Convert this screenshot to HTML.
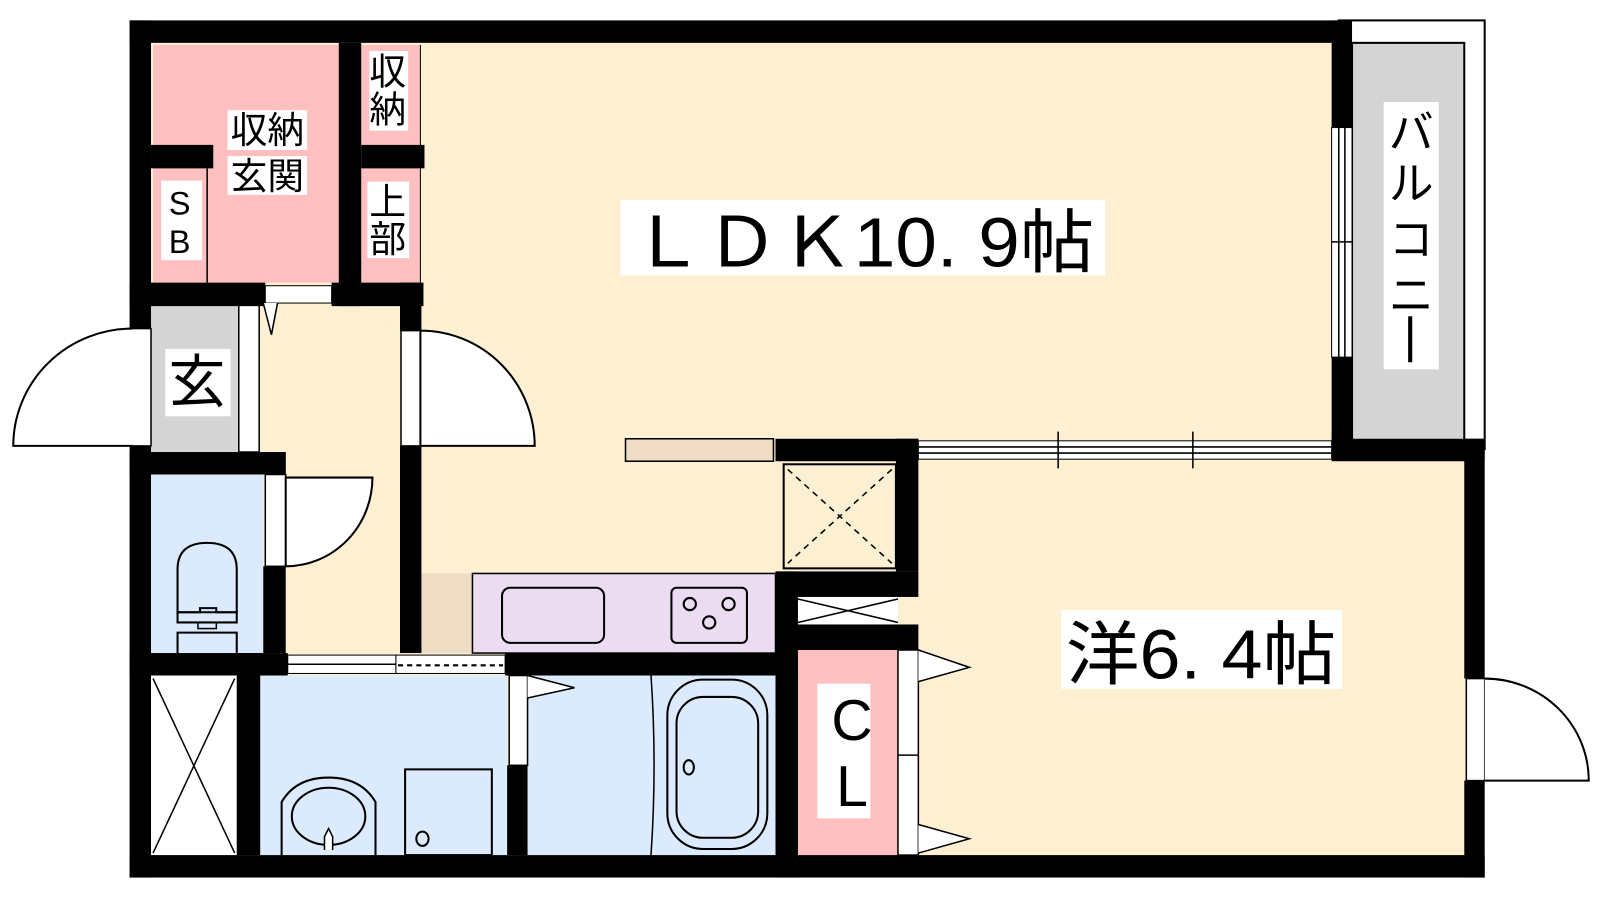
<!DOCTYPE html>
<html><head><meta charset="utf-8"><style>
html,body{margin:0;padding:0;background:#fff;width:1600px;height:900px;overflow:hidden}
svg{display:block}
text{font-family:"Liberation Sans","Noto Sans CJK JP",sans-serif;fill:#000}
</style></head><body>
<svg width="1600" height="900" viewBox="0 0 1600 900" xmlns="http://www.w3.org/2000/svg">
<g transform="scale(1.0204)">
<!-- balcony -->
<rect x="1312" y="20" width="143" height="420" fill="#fff" stroke="#000" stroke-width="2"/>
<rect x="1325" y="42" width="110" height="392" fill="#d4d4d4" stroke="#000" stroke-width="2"/>
<!-- room fills -->
<rect x="148" y="42" width="1160" height="800" fill="#fdf0d2"/>
<rect x="900" y="450" width="537" height="390" fill="#fdf0d2"/>
<!-- pink closets -->
<rect x="150" y="44" width="182" height="233" fill="#fdbfbf"/>
<rect x="354" y="44" width="58" height="233" fill="#fdbfbf"/>
<line x1="203" y1="165" x2="203" y2="277" stroke="#000" stroke-width="1.5"/>
<line x1="412" y1="44" x2="412" y2="277" stroke="#000" stroke-width="1"/>
<!-- genkan grey -->
<rect x="148" y="300" width="86" height="143" fill="#d4d4d4"/>
<rect x="234" y="294" width="20" height="149" fill="#fff" stroke="#000" stroke-width="1.5"/>
<!-- toilet -->
<rect x="148" y="465" width="110" height="175" fill="#dbeafd"/>
<!-- storage X -->
<rect x="148" y="662" width="84" height="176" fill="#fff"/>
<path d="M150 665 L230 836 M230 665 L150 836" stroke="#000" stroke-width="1.5"/>
<!-- wash & bath -->
<rect x="255" y="662" width="242" height="176" fill="#dbeafd"/>
<rect x="517" y="662" width="243" height="176" fill="#dbeafd"/>
<!-- CL -->
<rect x="782" y="637" width="98" height="201" fill="#fdbfbf"/>
<!-- kitchen -->
<rect x="412" y="562" width="51" height="78" fill="#eeddc4"/>
<rect x="463" y="562" width="297" height="78" fill="#ecdcf2" stroke="#000" stroke-width="1.5"/>
<rect x="492" y="576" width="100" height="54" rx="8" fill="none" stroke="#000" stroke-width="2"/>
<rect x="658" y="576" width="74" height="54" rx="5" fill="none" stroke="#000" stroke-width="2"/>
<circle cx="676" cy="592" r="6" fill="none" stroke="#000" stroke-width="2"/>
<circle cx="714" cy="592" r="6" fill="none" stroke="#000" stroke-width="2"/>
<circle cx="695" cy="610" r="6" fill="none" stroke="#000" stroke-width="2"/>
<rect x="613" y="430" width="145" height="22" fill="#eeddc4" stroke="#000" stroke-width="1.5"/>
<!-- fridge -->
<rect x="768" y="455" width="110" height="102" fill="none" stroke="#000" stroke-width="2"/>
<path d="M772 460 L874 552 M874 460 L772 552" stroke="#000" stroke-width="1.5" stroke-dasharray="6,5"/>
<rect x="782" y="585" width="98" height="27" fill="#fff"/>
<path d="M782 587 L880 610 M880 587 L782 610" stroke="#000" stroke-width="1.5"/>
<!-- walls -->
<g fill="#000">
<rect x="127" y="20" width="1185" height="22"/>
<rect x="127" y="20" width="21" height="302"/>
<rect x="127" y="437" width="21" height="423"/>
<rect x="127" y="838" width="1328" height="22"/>
<rect x="1305" y="20" width="20" height="105"/>
<rect x="1305" y="350" width="20" height="100"/>
<rect x="1305" y="430" width="150" height="22"/>
<rect x="1435" y="430" width="20" height="235"/>
<rect x="1435" y="765" width="20" height="95"/>
<rect x="332" y="42" width="22" height="258"/>
<rect x="354" y="142" width="62" height="23"/>
<rect x="148" y="142" width="61" height="23"/>
<rect x="127" y="277" width="133" height="23"/>
<rect x="325" y="277" width="90" height="23"/>
<rect x="392" y="277" width="21" height="47"/>
<rect x="392" y="437" width="21" height="203"/>
<rect x="127" y="443" width="153" height="22"/>
<rect x="258" y="443" width="22" height="22"/>
<rect x="258" y="555" width="22" height="85"/>
<rect x="127" y="640" width="155" height="22"/>
<rect x="232" y="640" width="23" height="198"/>
<rect x="495" y="640" width="287" height="22"/>
<rect x="497" y="750" width="20" height="88"/>
<rect x="760" y="640" width="22" height="220"/>
<rect x="760" y="430" width="140" height="22"/>
<rect x="878" y="430" width="22" height="130"/>
<rect x="760" y="560" width="140" height="25"/>
<rect x="760" y="612" width="140" height="25"/>
<rect x="760" y="560" width="22" height="80"/>
</g>
<!-- door/window frames -->
<rect x="260" y="280" width="65" height="17" fill="#fff" stroke="#000" stroke-width="1"/>
<path d="M258 297 L266 328 L272 297" fill="#fff" stroke="#000" stroke-width="1.5"/>
<rect x="129" y="322" width="19" height="115" fill="#fff" stroke="#000" stroke-width="1.5"/>
<path d="M130 322 A117 115 0 0 0 13 437 L130 437" fill="#fff" stroke="#000" stroke-width="2"/>
<rect x="393" y="324" width="19" height="113" fill="#fff" stroke="#000" stroke-width="1.5"/>
<path d="M412 324 A112 113 0 0 1 524 437 L412 437 Z" fill="#fff" stroke="#000" stroke-width="2"/>
<rect x="260" y="465" width="20" height="90" fill="#fff" stroke="#000" stroke-width="1.5"/>
<path d="M280 468 L365 468 A85 87 0 0 1 280 555 Z" fill="#fff" stroke="#000" stroke-width="2"/>
<rect x="282" y="642" width="106" height="18" fill="#fff" stroke="#000" stroke-width="1"/>
<line x1="282" y1="651" x2="388" y2="651" stroke="#000" stroke-width="1.5"/>
<rect x="388" y="642" width="107" height="18" fill="#fff" stroke="#000" stroke-width="1"/>
<line x1="390" y1="652" x2="493" y2="652" stroke="#000" stroke-width="2" stroke-dasharray="5,4"/>
<rect x="499" y="662" width="18" height="88" fill="#fff" stroke="#000" stroke-width="1.5"/>
<path d="M517 662 L563 674 L517 684" fill="#fff" stroke="#000" stroke-width="1.5"/>
<rect x="880" y="637" width="20" height="201" fill="#fff" stroke="#000" stroke-width="1.5"/>
<line x1="880" y1="740" x2="900" y2="740" stroke="#000" stroke-width="1.5"/>
<path d="M900 637 L950 654 L900 668" fill="#fff" stroke="#000" stroke-width="1.5"/>
<path d="M900 808 L950 822 L900 836" fill="#fff" stroke="#000" stroke-width="1.5"/>
<rect x="1437" y="665" width="18" height="100" fill="#fff" stroke="#000" stroke-width="1.5"/>
<path d="M1455 665 A102 100 0 0 1 1557 765 L1455 765" fill="#fff" stroke="#000" stroke-width="2"/>
<!-- windows -->
<rect x="900" y="432" width="405" height="18" fill="#fff" stroke="#000" stroke-width="1"/>
<line x1="900" y1="438" x2="1305" y2="438" stroke="#000" stroke-width="1.5"/>
<line x1="900" y1="444" x2="1305" y2="444" stroke="#000" stroke-width="1.5"/>
<path d="M1037 423 V459 M1169 423 V459" stroke="#000" stroke-width="1.5"/>
<rect x="1305" y="125" width="20" height="225" fill="#fff" stroke="#000" stroke-width="1"/>
<path d="M1312 125 V350 M1318 125 V350 M1305 237 H1325" stroke="#000" stroke-width="1.5"/>
<!-- toilet fixture -->
<path d="M174 600 V558 Q174 532 203 532 Q232 532 232 558 V600 Z" fill="none" stroke="#000" stroke-width="2"/>
<path d="M174 600 H196 V596 H212 V600 H232 V610 H174 Z" fill="none" stroke="#000" stroke-width="2"/>
<rect x="194" y="610" width="18" height="6" fill="none" stroke="#000" stroke-width="1.5"/>
<path d="M174 640 V620 H232 V640" fill="none" stroke="#000" stroke-width="2"/>
<!-- sink -->
<path d="M276 838 V786 Q290 762 322 762 Q354 762 368 786 V838" fill="none" stroke="#000" stroke-width="2"/>
<ellipse cx="322" cy="800" rx="36" ry="28" fill="none" stroke="#000" stroke-width="2"/>
<path d="M318 833 V820 L322 812 L326 820 V833" fill="#fff" stroke="#000" stroke-width="1.5"/>
<rect x="397" y="754" width="85" height="84" fill="none" stroke="#000" stroke-width="2"/>
<ellipse cx="414" cy="822" rx="6" ry="7" fill="none" stroke="#000" stroke-width="2"/>
<!-- bath -->
<path d="M638 662 Q644 750 638 838" fill="none" stroke="#000" stroke-width="1.5"/>
<rect x="654" y="666" width="98" height="166" rx="35" fill="none" stroke="#000" stroke-width="2"/>
<rect x="663" y="683" width="80" height="138" rx="26" fill="none" stroke="#000" stroke-width="2"/>
<ellipse cx="675" cy="752" rx="5" ry="7" fill="none" stroke="#000" stroke-width="2"/>
<!-- labels -->
<rect x="223" y="108" width="78" height="39" fill="#fff"/>
<text x="262" y="140" font-size="36" text-anchor="middle">収納</text>
<rect x="223" y="153" width="78" height="38" fill="#fff"/>
<text x="262" y="185" font-size="36" text-anchor="middle">玄関</text>
<rect x="158" y="177" width="40" height="78" fill="#fff"/>
<text x="176" y="210" font-size="32" text-anchor="middle">S</text>
<text x="176" y="248" font-size="32" text-anchor="middle">B</text>
<rect x="362" y="50" width="38" height="78" fill="#fff"/>
<text x="380" y="83" font-size="36" text-anchor="middle">収</text>
<text x="380" y="120" font-size="36" text-anchor="middle">納</text>
<rect x="360" y="178" width="41" height="75" fill="#fff"/>
<text x="380" y="210" font-size="36" text-anchor="middle">上</text>
<text x="380" y="247" font-size="36" text-anchor="middle">部</text>
<rect x="162" y="342" width="64" height="66" fill="#fff"/>
<text x="193" y="394" font-size="56" text-anchor="middle">玄</text>
<rect x="608" y="196" width="475" height="74" fill="#fff"/>
<text x="845" y="261" font-size="68" text-anchor="middle" textLength="455" lengthAdjust="spacingAndGlyphs">ＬＤＫ10. 9帖</text>
<rect x="1040" y="598" width="275" height="77" fill="#fff"/>
<text x="1177" y="665" font-size="68" text-anchor="middle" textLength="265" lengthAdjust="spacingAndGlyphs">洋6. 4帖</text>
<rect x="1356" y="100" width="54" height="262" fill="#fff"/>
<text x="1383" y="145" font-size="44" text-anchor="middle">バ</text>
<text x="1383" y="195" font-size="44" text-anchor="middle">ル</text>
<text x="1383" y="250" font-size="44" text-anchor="middle">コ</text>
<text x="1383" y="305" font-size="44" text-anchor="middle">ニ</text>
<rect x="1380" y="310" width="4" height="45" fill="#000"/>
<rect x="801" y="670" width="52" height="132" fill="#fff"/>
<text x="835" y="725" font-size="56" text-anchor="middle">C</text>
<text x="835" y="790" font-size="56" text-anchor="middle">L</text>
</g>
</svg>
</body></html>
